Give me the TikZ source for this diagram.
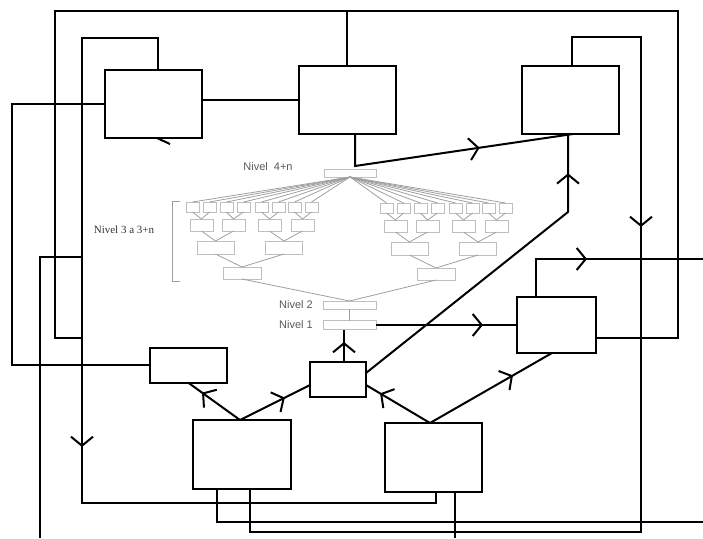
\documentclass[tikz,border=0pt]{standalone}
\usepackage{fontspec}
\setmainfont{Liberation Sans}
\newfontfamily\timesfont{Liberation Serif}
\usetikzlibrary{arrows.meta,decorations.markings,positioning}

\begin{document}
\begin{tikzpicture}[x=1pt, y=-1pt,
    blk/.style={draw, line width=2pt, outer sep=0pt, inner sep=0pt},
    gbx/.style={draw=gray!50, line width=0.9pt, outer sep=0pt, inner sep=0pt},
    wire/.style={line width=2pt},
    gline/.style={draw=gray!75, line width=0.8pt},
    lbl/.style={text=black!65, inner sep=0pt, font=\fontsize{11}{13}\selectfont},
    midarr/.style={postaction={decorate}, decoration={markings,
        mark=at position #1 with {\arrow{Straight Barb[length=9pt,width=22pt]}}}}
]
\useasboundingbox (0,0) rectangle (703,538);

% black boxes
\node[blk, minimum width=97pt, minimum height=68pt] (A) at (153.5,104) {};
\node[blk, minimum width=97pt, minimum height=68pt] (B) at (347,100) {};
\node[blk, minimum width=97pt, minimum height=68pt] (C) at (570.5,100) {};
\node[blk, minimum width=79pt, minimum height=56pt] (D) at (556.5,325) {};
\node[blk, minimum width=77pt, minimum height=35pt] (E) at (188.5,365) {};
\node[blk, minimum width=56pt, minimum height=35pt] (F) at (338,379.5) {};
\node[blk, minimum width=98pt, minimum height=69pt] (G) at (242,454.5) {};
\node[blk, minimum width=97pt, minimum height=69pt] (H) at (433.5,457.5) {};

% levels
\node[gbx, minimum width=52pt, minimum height=8pt] (top4) at (350,173) {};
\node[gbx, minimum width=53pt, minimum height=8pt] (N2) at (349.5,305) {};
\node[gbx, minimum width=53pt, minimum height=9pt] (N1) at (349.5,325) {};

\foreach \g/\dx/\dy in {l/0/0, r/194/1} {
  \foreach \i/\x in {1/192.5,2/209.5,3/226.5,4/243.5,5/261.5,6/278.5,7/294.5,8/311.5}
    \node[gbx, minimum width=13pt, minimum height=10pt] (\g a\i) at (\x+\dx,207+\dy) {};
  \foreach \i/\x in {1/201.5,2/233.5,3/269.5,4/302.5}
    \node[gbx, minimum width=23pt, minimum height=12pt] (\g b\i) at (\x+\dx,225+\dy) {};
  \foreach \i/\x in {1/215.5,2/284}
    \node[gbx, minimum width=37pt, minimum height=13pt] (\g c\i) at (\x+\dx,247.5+\dy) {};
  \node[gbx, minimum width=38pt, minimum height=12pt] (\g d) at (242+\dx,273+\dy) {};
}

\foreach \g in {l,r} {
  \foreach \i/\j in {1/1,2/1,3/2,4/2,5/3,6/3,7/4,8/4} {
    \draw[gline] (top4.south) -- (\g a\i.north);
    \draw[gline] (\g a\i.south) -- (\g b\j.north);
  }
  \foreach \i/\j in {1/1,2/1,3/2,4/2}
    \draw[gline] (\g b\i.south) -- (\g c\j.north);
  \draw[gline] (\g c1.south) -- (\g d.north);
  \draw[gline] (\g c2.south) -- (\g d.north);
  \draw[gline] (\g d.south) -- (N2.north);
}
\draw[gline] (N2.south) -- (N1.north);
\draw[gline] (180,201) -| (172,281) -- (180,281);

\node[lbl] (lv4) at (268,167) {Nivel~~4+n};
\node[lbl, font=\timesfont\fontsize{11}{13}\selectfont, text=black!80] (lv3) at (124,230) {Nivel 3 a 3+n};
\node[lbl, left=10pt of N2] (lv2) {Nivel 2};
\node[lbl, left=10pt of N1] (lv1) {Nivel 1};

% free ends
\coordinate (edgeR1) at (703,259);
\coordinate (edgeR2) at (703,522);
\coordinate (edgeB1) at (455,538);
\coordinate (edgeB2) at (40,538);

% outer loops
\draw[wire] (D.east |- 0,338) -| (678,11) -| (55,338) -- (82,338);
\draw[wire] (B.north) -- (B.north |- 0,11);
\draw[wire, midarr=517pt] (A.north -| 158,0) |- (82,38) -- (82,503) -| (H.south -| 436,0);
\draw[wire] (A.west) -| (12,0 |- E.west) -- (E.west);
\draw[wire] (edgeB2) |- (82,257);
\draw[wire] (A.east |- B.west) -- (B.west);
\draw[wire] (A.south -| 157,0) -- ++(13,6);
\draw[wire, midarr=288pt] (C.north -| 572,0) |- (641,37) -- (641,532) -| (G.south -| 250,0);
\draw[wire] (G.south -| 217,0) |- (edgeR2);
\draw[wire] (H.south -| 455,0) -- (edgeB1);

% inner connectors
\draw[wire, midarr=158pt] (B.south -| 355,0) -- (355,166) -- (C.south -| 573,0);
\draw[wire, midarr=297pt] (F.east |- 0,373) -- (568,212) -- (C.south -| 568,0);
\draw[wire, midarr=107pt] (N1.east) -- (D.west);
\draw[wire, midarr=89pt] (D.north -| 536,0) |- (edgeR1);
\draw[wire, midarr=20pt] (F.north -| 344,0) -- (N1.south -| 344,0);
\draw[wire, midarr=0.73] (G.north -| 240,0) -- (E.south -| 188,0);
\draw[wire, midarr=0.64] (G.north -| 240,0) -- (F.west |- 0,385);
\draw[wire, midarr=0.78] (H.north -| 430,0) -- (F.east |- 0,385);
\draw[wire, midarr=0.68] (H.north -| 430,0) -- (D.south -| 552,0);

\end{tikzpicture}
\end{document}
